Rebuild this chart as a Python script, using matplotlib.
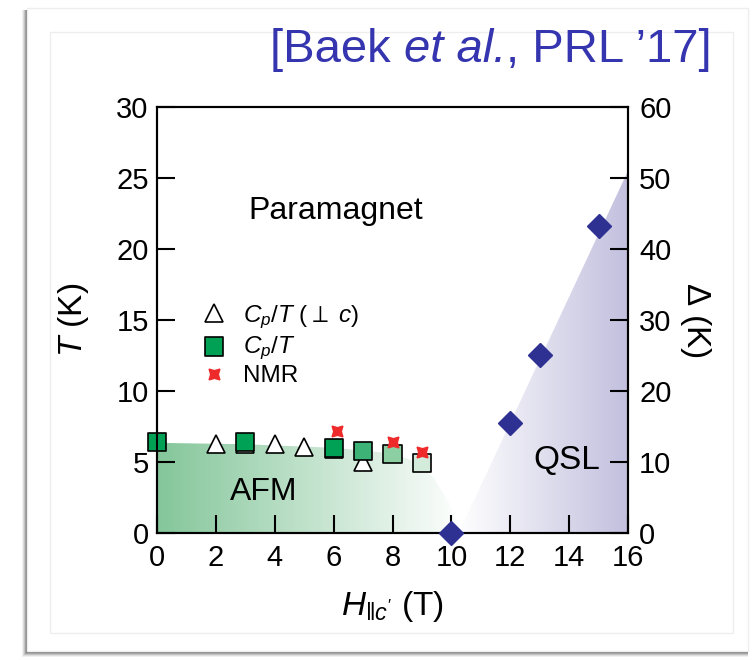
import numpy as np
import matplotlib
matplotlib.use("Agg")
import matplotlib.pyplot as plt
from matplotlib.patches import Polygon, Rectangle
from matplotlib.colors import to_rgb

plt.rcParams['font.family'] = ['Liberation Sans', 'DejaVu Sans']
plt.rcParams['mathtext.fontset'] = 'custom'
plt.rcParams['mathtext.rm'] = 'Liberation Sans'
plt.rcParams['mathtext.it'] = 'Liberation Sans:italic'
plt.rcParams['mathtext.bf'] = 'Liberation Sans:bold'

# --- data ---
# C_p/T with field perpendicular to c (open triangles)
tri_H = [2, 3, 4, 5, 6, 7]
tri_T = [6.25, 6.3, 6.25, 6.08, 5.95, 4.98]
# C_p/T (green squares, fading colour with field)
sq_H = [0, 3, 6, 7, 8, 9]
sq_T = [6.43, 6.39, 5.96, 5.8, 5.54, 4.9]
sq_colors = ['#00a055', '#00a055', '#00a055', '#3db378', '#8ccfa3', '#d3ebdb']
# NMR (red stars)
nmr_H = [6.1, 8.0, 9.0]
nmr_T = [7.2, 6.4, 5.7]
# spin gap Delta (right axis)
gap_H = [10, 12, 13, 15]
gap_D = [0, 15.5, 25.1, 43.2]

# phase boundaries
afm_H = [0, 3, 6, 8, 8.8, 9.4, 9.9, 10.3]
afm_T = [6.35, 6.25, 6.0, 5.6, 5.0, 3.9, 2.2, 0]
qsl_H = [10.25, 16, 16]
qsl_T = [0, 25.5, 0]

xticks = [0, 2, 4, 6, 8, 10, 12, 14, 16]
yticks = [0, 5, 10, 15, 20, 25, 30]
y2ticks = [0, 10, 20, 30, 40, 50, 60]

W, H = 755, 660
fig = plt.figure(figsize=(W / 100, H / 100), dpi=100)


def rect(x0, y0, x1, y1, **kw):
    return Rectangle((x0 / W, 1 - y1 / H), (x1 - x0) / W, (y1 - y0) / H,
                     transform=fig.transFigure, **kw)


# card with soft shadow
for i, a in enumerate([0.06, 0.08, 0.12, 0.16, 0.2]):
    fig.add_artist(rect(27 - 5 + i, 10, 748, 657 - i, facecolor='k',
                        alpha=a, edgecolor='none', zorder=-10))
fig.add_artist(rect(27, 8, 748, 651, facecolor='white', edgecolor='#eeeeee',
                    lw=1, zorder=-9))
fig.add_artist(rect(50, 32, 733, 633, facecolor='white', edgecolor='#eeeeee',
                    lw=1, zorder=-8))

ax = fig.add_axes([157 / W, 1 - 533 / H, (628 - 157) / W, (533 - 107) / H])
ax.set_facecolor('none')

# gradient-filled phase regions
def gradient(c_left, c_right, n=256):
    l, r = np.array(to_rgb(c_left)), np.array(to_rgb(c_right))
    t = np.linspace(0, 1, n)[:, None]
    return (l + (r - l) * t)[None, :, :]

afm_poly = Polygon(list(zip(afm_H, afm_T)) + [(0, 0)], closed=True,
                   facecolor='none', edgecolor='none')
ax.add_patch(afm_poly)
im = ax.imshow(gradient('#84c69a', '#ffffff'), extent=[0, 10.4, 0, 7],
               aspect='auto', origin='lower', zorder=0)
im.set_clip_path(afm_poly)

qsl_poly = Polygon(list(zip(qsl_H, qsl_T)), closed=True,
                   facecolor='none', edgecolor='none')
ax.add_patch(qsl_poly)
im2 = ax.imshow(gradient('#ffffff', '#c2c0de'), extent=[10.2, 16, 0, 30],
                aspect='auto', origin='lower', zorder=0)
im2.set_clip_path(qsl_poly)

ax.plot(tri_H, tri_T, ls='none', marker='^', ms=13, mfc='white', mec='k',
        mew=1.2, clip_on=False, zorder=3, label=r'$C_p/T$ ($\perp$ $c$)')
ax.scatter(sq_H, sq_T, s=13 ** 2, marker='s', c=sq_colors, edgecolors='k',
           linewidths=1.2, clip_on=False, zorder=4, label=r'$C_p/T$')
ax.plot(nmr_H, nmr_T, ls='none', marker=(4, 1, 45), ms=11, mfc='#ee2a2a',
        mec='#ee2a2a', clip_on=False, zorder=5, label='NMR')

ax.set_xlim(0, 16)
ax.set_ylim(0, 30)
ax.set_xticks(xticks)
ax.set_yticks(yticks)
ax.tick_params(direction='in', length=13, width=1.5, labelsize=21, pad=8)
ax.tick_params(axis='y', pad=6)
for s in ax.spines.values():
    s.set_linewidth(1.5)

ax.set_xlabel(r"$H_{\Vert c'}$ (T)", fontsize=24, labelpad=12)
ax.set_ylabel(r'$T$ (K)', fontsize=24, labelpad=18)

ax2 = ax.twinx()
ax2.set_ylim(0, 60)
ax2.set_yticks(y2ticks)
ax2.tick_params(direction='in', length=13, width=1.5, labelsize=21, pad=8)
for s in ax2.spines.values():
    s.set_linewidth(1.5)
ax2.plot(gap_H, gap_D, ls='none', marker='D', ms=12, mfc='#2e3192',
         mec='#2e3192', clip_on=False, zorder=6)
ax2.set_ylabel(r'$\Delta$ (K)', fontsize=24, rotation=-90, labelpad=30)

ax.text(6.08, 22.7, 'Paramagnet', fontsize=23, ha='center', va='center')
ax.text(3.63, 2.9, 'AFM', fontsize=23, ha='center', va='center')
ax.text(13.93, 5.14, 'QSL', fontsize=24, ha='center', va='center')

ax.legend(loc='upper left', bbox_to_anchor=(0.075, 0.562), frameon=False,
          fontsize=17.5, handlelength=1.0, handletextpad=0.7, labelspacing=0.15,
          borderaxespad=0)

# title built from pieces so the italic part sits snugly
title_parts = ['[Baek ', 'et al.', ', PRL ’17]']
title_styles = ['normal', 'italic', 'normal']
renderer = fig.canvas.get_renderer()
x_right = 712 / W
y_title = 1 - 50 / H
pieces = [fig.text(0, y_title, t, fontsize=34, style=st, color='#3535b0',
                   ha='left', va='center')
          for t, st in zip(title_parts, title_styles)]
widths = [p.get_window_extent(renderer).width / W for p in pieces]
x = x_right - sum(widths)
for p, w in zip(pieces, widths):
    p.set_x(x)
    x += w

fig.savefig('out.png', dpi=100)
